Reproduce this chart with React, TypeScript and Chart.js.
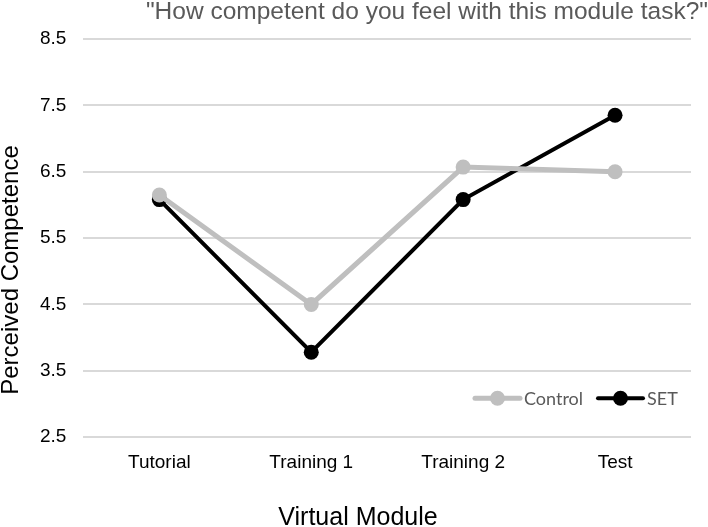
import React, { useEffect, useRef } from "react";
import { Chart, registerables } from "chart.js";

Chart.register(...registerables);

const categories = ["Tutorial", "Training 1", "Training 2", "Test"];
const controlValues = [6.15, 4.5, 6.57, 6.5];
const setValues = [6.08, 3.78, 6.08, 7.35];
const yTicks = [2.5, 3.5, 4.5, 5.5, 6.5, 7.5, 8.5];
const seriesNames = ["Control", "SET"];
const seriesColors = ["#bfbfbf", "#000000"];
const chartTitle = '"How competent do you feel with this module task?"';
const xTitle = "Virtual Module";
const yTitle = "Perceived Competence";

const FONT = "'Liberation Sans', Arial, sans-serif";

const titlesPlugin = {
  id: "titles",
  afterDraw(chart: any) {
    const { ctx, width } = chart;
    ctx.save();
    ctx.textBaseline = "middle";
    ctx.font = `24.5px ${FONT}`;
    ctx.fillStyle = "#595959";
    ctx.textAlign = "right";
    ctx.fillText(chartTitle, width, 12);

    ctx.fillStyle = "#000";
    ctx.textAlign = "center";
    ctx.font = `25px ${FONT}`;
    ctx.fillText(xTitle, 358, 518);

    ctx.font = `24px ${FONT}`;
    ctx.translate(11, 270);
    ctx.rotate(-Math.PI / 2);
    ctx.fillText(yTitle, 0, 0);
    ctx.restore();
  },
};

const legendPlugin = {
  id: "insideLegend",
  afterDraw(chart: any) {
    const { ctx, chartArea } = chart;
    const y = chartArea.bottom - 39;
    ctx.save();
    ctx.font = "18px Lato, 'Liberation Sans', sans-serif";
    ctx.textBaseline = "middle";
    let x = chartArea.right - 216;
    seriesNames.forEach((name, i) => {
      const c = seriesColors[i];
      ctx.strokeStyle = c;
      ctx.lineWidth = i === 0 ? 5 : 4;
      ctx.lineCap = "round";
      ctx.beginPath();
      ctx.moveTo(x, y);
      ctx.lineTo(x + 45, y);
      ctx.stroke();
      ctx.fillStyle = c;
      ctx.beginPath();
      ctx.arc(x + 22.5, y, 7.5, 0, Math.PI * 2);
      ctx.fill();
      ctx.fillStyle = "#595959";
      ctx.textAlign = "left";
      ctx.fillText(name, x + 49, y + 1);
      x += 123;
    });
    ctx.restore();
  },
};

export default function App() {
  const ref = useRef<HTMLCanvasElement>(null);
  useEffect(() => {
    document.body.style.margin = "0";
    const chart = new Chart(ref.current!, {
      type: "line",
      data: {
        labels: categories,
        datasets: [
          {
            label: seriesNames[0],
            data: controlValues,
            borderColor: seriesColors[0],
            backgroundColor: seriesColors[0],
            borderWidth: 5,
            pointRadius: 7.5,
            pointBorderWidth: 0,
            pointBackgroundColor: seriesColors[0],
            tension: 0,
          },
          {
            label: seriesNames[1],
            data: setValues,
            borderColor: seriesColors[1],
            backgroundColor: seriesColors[1],
            borderWidth: 4,
            pointRadius: 7.5,
            pointBorderWidth: 0,
            pointBackgroundColor: seriesColors[1],
            tension: 0,
          },
        ],
      },
      options: {
        animation: false,
        responsive: false,
        maintainAspectRatio: false,
        layout: { padding: { left: 23, right: 17, top: 39, bottom: 39 } },
        plugins: {
          legend: { display: false },
          tooltip: { enabled: false },
          title: { display: false },
        },
        scales: {
          x: {
            offset: true,
            grid: { display: false, drawTicks: false },
            border: { display: false },
            ticks: {
              color: "#000",
              font: { family: FONT, size: 19 },
              padding: 14,
            },
          },
          y: {
            min: 2.5,
            max: 8.5,
            afterBuildTicks: (axis: any) => {
              axis.ticks = yTicks.map((v) => ({ value: v }));
            },
            grid: { color: "#d9d9d9", lineWidth: 2, drawTicks: false },
            border: { display: false },
            ticks: {
              color: "#000",
              font: { family: FONT, size: 19 },
              padding: 17,
              callback: (v: any) => Number(v).toFixed(1),
            },
          },
        },
      },
      plugins: [legendPlugin, titlesPlugin],
    });
    return () => chart.destroy();
  }, []);
  return (
    <div style={{ width: 708, height: 527 }}>
      <canvas ref={ref} width={708} height={527} style={{ display: "block" }} />
    </div>
  );
}
